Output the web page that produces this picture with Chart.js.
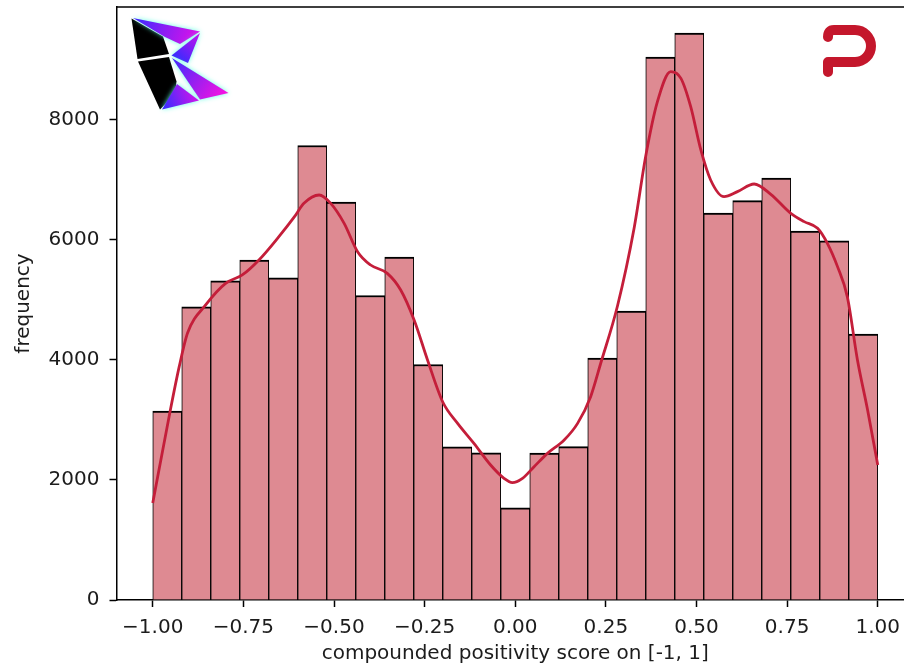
<!DOCTYPE html>
<html>
<head>
<meta charset="utf-8">
<script src="https://cdn.jsdelivr.net/npm/chart.js@4/dist/chart.umd.min.js"></script>
<style>
  html, body { margin: 0; padding: 0; background: #fff; overflow: hidden; }
  #wrap { width: 920px; height: 667px; }
</style>
</head>
<body>
<div id="wrap"><canvas id="c" width="920" height="667"></canvas></div>
<script>
// Histogram bin edges (25 bins over [-1, 1])
const binEdges = [-1.00, -0.92, -0.84, -0.76, -0.68, -0.60, -0.52, -0.44, -0.36, -0.28, -0.20, -0.12, -0.04,
                  0.04, 0.12, 0.20, 0.28, 0.36, 0.44, 0.52, 0.60, 0.68, 0.76, 0.84, 0.92, 1.00];
// Post counts per bin
const binCounts = [3150, 4885, 5320, 5665, 5370, 7575, 6630, 5075, 5717, 3925,
                   2553, 2453, 1536, 2450, 2555, 4030, 4817, 9047, 9447, 6447,
                   6655, 7030, 6150, 5986, 4433];
// Kernel density estimate (scaled to counts)
const kdeX = [-1.000, -0.953, -0.927, -0.904, -0.854, -0.799, -0.753, -0.707, -0.652, -0.610,
              -0.583, -0.541, -0.509, -0.472, -0.435, -0.399, -0.353, -0.316, -0.279, -0.242,
              -0.200, -0.159, -0.114, -0.068, -0.031, -0.008, 0.020, 0.052, 0.089, 0.135,
              0.172, 0.208, 0.236, 0.282, 0.328, 0.360, 0.392, 0.429, 0.457, 0.484,
              0.512, 0.539, 0.576, 0.613, 0.659, 0.705, 0.760, 0.797, 0.834, 0.861,
              0.889, 0.916, 0.944, 0.972, 1.000];
const kdeY = [1617, 3117, 3889, 4450, 4917, 5278, 5417, 5667, 6056, 6380,
              6611, 6750, 6611, 6278, 5806, 5583, 5444, 5167, 4667, 4000,
              3300, 2944, 2611, 2250, 2028, 1956, 2028, 2222, 2444, 2667,
              2944, 3389, 3950, 4900, 6200, 7400, 8300, 8806, 8694, 8222,
              7500, 7000, 6722, 6806, 6933, 6760, 6444, 6306, 6194, 5944,
              5556, 5056, 4000, 3167, 2250];
// Axis ticks
const xTickValues = [-1.00, -0.75, -0.50, -0.25, 0.00, 0.25, 0.50, 0.75, 1.00];
const xTickLabels = ['\u22121.00', '\u22120.75', '\u22120.50', '\u22120.25', '0.00', '0.25', '0.50', '0.75', '1.00'];
const yTickValues = [0, 2000, 4000, 6000, 8000];
const yTickLabels = ['0', '2000', '4000', '6000', '8000'];

const barPoints = binCounts.map((c, i) => ({ x: (binEdges[i] + binEdges[i + 1]) / 2, y: c }));
const kdePoints = kdeX.map((x, i) => ({ x: x, y: kdeY[i] }));

const FONT = 'DejaVu Sans';
const TXT = '#1c1c1c';

// Frame lines along the top and right of the plot area
const framePlugin = {
  id: 'frame',
  afterDraw(chart) {
    const { ctx, chartArea: a } = chart;
    ctx.save();
    ctx.strokeStyle = '#000';
    ctx.lineWidth = 1.5;
    ctx.beginPath();
    ctx.moveTo(a.left, a.top);
    ctx.lineTo(a.right, a.top);
    ctx.lineTo(a.right, a.bottom);
    ctx.stroke();
    ctx.restore();
  }
};

// Platform logos in the corners
function poly(ctx, pts) {
  ctx.beginPath();
  ctx.moveTo(pts[0][0], pts[0][1]);
  for (let i = 1; i < pts.length; i++) ctx.lineTo(pts[i][0], pts[i][1]);
  ctx.closePath();
}
const logoPlugin = {
  id: 'logos',
  afterDraw(chart) {
    const ctx = chart.ctx;
    ctx.save();
    // folded-kite emblem, top left
    ctx.fillStyle = '#000';
    poly(ctx, [[131.5, 18.5], [163, 36.5], [169, 54], [137.5, 59]]); ctx.fill();
    poly(ctx, [[138, 61.5], [169, 57], [176.5, 81.5], [175, 94], [160, 109.5]]); ctx.fill();
    ctx.shadowColor = 'rgba(90,255,225,0.95)';
    ctx.shadowBlur = 5;
    const wing = (pts, x0, y0, x1, y1, c0, c1) => {
      const g = ctx.createLinearGradient(x0, y0, x1, y1);
      g.addColorStop(0, c0); g.addColorStop(1, c1);
      ctx.fillStyle = g; poly(ctx, pts); ctx.fill();
    };
    wing([[133, 18], [200, 31.5], [180, 44], [165, 37]], 134, 18, 200, 40, '#3b2cff', '#e410e8');
    wing([[200, 33], [171.5, 55.5], [188, 63]], 200, 33, 175, 60, '#c812ee', '#2f2cff');
    wing([[172, 58], [228.5, 93], [200, 99.5]], 172, 58, 228, 95, '#3b2cff', '#ff10e0');
    wing([[177, 84], [199, 100.5], [162, 109.5]], 165, 108, 199, 95, '#3b2cff', '#d814ea');
    ctx.restore();

    // red "P" emblem, top right
    ctx.save();
    ctx.strokeStyle = '#C4172C';
    ctx.lineWidth = 10;
    ctx.lineCap = 'round';
    ctx.lineJoin = 'round';
    ctx.beginPath();
    ctx.moveTo(828, 72);
    ctx.lineTo(828, 62);
    ctx.lineTo(855, 62);
    ctx.arc(855, 46, 16, Math.PI / 2, -Math.PI / 2, true);
    ctx.lineTo(834, 30);
    ctx.quadraticCurveTo(828, 30, 828, 37);
    ctx.stroke();
    ctx.restore();
  }
};

new Chart(document.getElementById('c'), {
  type: 'bar',
  data: {
    datasets: [
      {
        type: 'line',
        data: kdePoints,
        borderColor: '#C41E3A',
        borderWidth: 2.8,
        pointRadius: 0,
        cubicInterpolationMode: 'monotone',
        fill: false,
        order: 0
      },
      {
        type: 'bar',
        data: barPoints,
        backgroundColor: '#DE8A92',
        borderColor: '#000',
        borderWidth: { top: 2, left: 1, right: 1, bottom: 0 },
        borderSkipped: false,
        barPercentage: 1.0,
        categoryPercentage: 1.0,
        order: 1
      }
    ]
  },
  options: {
    responsive: false,
    animation: false,
    events: [],
    layout: { padding: { top: 7, right: 6, left: 0, bottom: 0 } },
    plugins: { legend: { display: false }, tooltip: { enabled: false } },
    scales: {
      x: {
        type: 'linear',
        min: -1.1,
        max: 1.1,
        offset: false,
        grid: { display: true, drawOnChartArea: false, drawTicks: true, tickLength: 7, tickWidth: 1.5, color: '#000', offset: false },
        border: { display: true, color: '#000', width: 1.5 },
        afterBuildTicks: (s) => { s.ticks = xTickValues.map(v => ({ value: v })); },
        afterFit: (s) => { s.height = 67; s.paddingLeft = 0; s.paddingRight = 0; },
        ticks: {
          autoSkip: false,
          maxRotation: 0,
          padding: 9,
          color: TXT,
          font: { family: FONT, size: 20 },
          callback: (v, i) => xTickLabels[i]
        },
        title: {
          display: true,
          text: 'compounded positivity score on [-1, 1]',
          color: TXT,
          font: { family: FONT, size: 20 },
          padding: { top: 0, bottom: 1 }
        }
      },
      y: {
        type: 'linear',
        min: 0,
        max: 9883,
        grid: { display: true, drawOnChartArea: false, drawTicks: true, tickLength: 7, tickWidth: 1.5, color: '#000' },
        border: { display: true, color: '#000', width: 1.5 },
        afterBuildTicks: (s) => { s.ticks = yTickValues.map(v => ({ value: v })); },
        afterFit: (s) => { s.width = 116.5; s.paddingTop = 0; s.paddingBottom = 0; },
        ticks: {
          padding: 10,
          color: TXT,
          font: { family: FONT, size: 20 },
          callback: (v, i) => yTickLabels[i]
        },
        title: {
          display: true,
          text: 'frequency',
          color: TXT,
          font: { family: FONT, size: 20 },
          padding: { top: 12, bottom: 0 }
        }
      }
    }
  },
  plugins: [framePlugin, logoPlugin]
});
</script>
</body>
</html>
